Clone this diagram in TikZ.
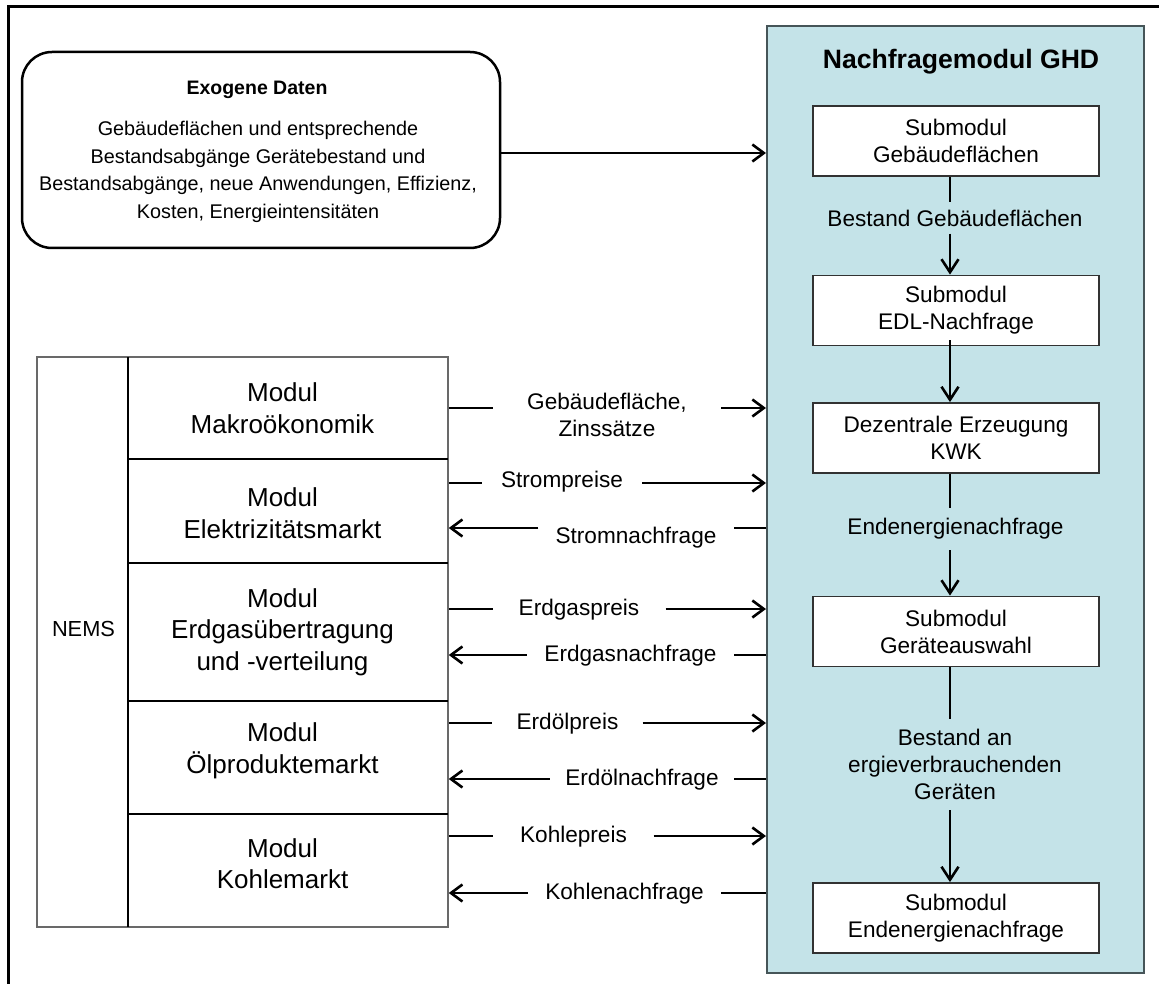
\documentclass[tikz,border=0pt]{standalone}
\usepackage{fontspec}
\setmainfont{Liberation Sans}
\usetikzlibrary{arrows.meta}

\definecolor{panelblue}{RGB}{196,227,232}
\definecolor{paneledge}{RGB}{70,85,88}
\definecolor{boxedge}{RGB}{50,50,50}
\definecolor{tablegray}{RGB}{105,105,105}

\tikzset{
  subbox/.style={draw=boxedge, line width=1.8pt, fill=white, inner sep=0pt,
    minimum width=286pt, minimum height=70pt, align=center,
    font=\fontsize{22.6}{27}\selectfont},
  flow/.style={line width=2.6pt, draw=black},
  harrow/.style={flow, -{Straight Barb[length=11.5pt,width=17pt]}},
  varrow/.style={flow, -{Straight Barb[length=13pt,width=17pt]}},
  lbl/.style={inner sep=0pt, align=center, font=\fontsize{22.6}{27}\selectfont},
  modtext/.style={inner sep=0pt, align=center, font=\fontsize{26}{31.5}\selectfont},
  rowline/.style={line width=2.5pt, draw=black},
}

\begin{document}
\begin{tikzpicture}[x=1pt,y=-1pt]
\useasboundingbox (0,0) rectangle (1159,984);

% outer frame (left and top edges)
\draw[line width=3pt] (8,984) -- (8,7) -- (1159,7);

% exogenous data box
\node[draw, line width=2.5pt, rounded corners=30pt, minimum width=478pt,
      minimum height=196pt, inner sep=0pt] (exo) at (261,150) {};
\node[inner sep=0pt, font=\fontsize{19.5}{24}\selectfont\bfseries] (exotitle) at (257,90) {Exogene Daten};
\node[inner sep=0pt, align=center, font=\fontsize{19.8}{27.7}\selectfont] (exobody) at (258,172)
  {Gebäudeflächen und entsprechende\\Bestandsabgänge Gerätebestand und\\Bestandsabgänge, neue Anwendungen, Effizienz,\\Kosten, Energieintensitäten};

% demand module panel
\node[draw=paneledge, fill=panelblue, line width=2pt, minimum width=377pt,
      minimum height=947pt, inner sep=0pt] (panel) at (955.5,499.5) {};
\node[inner sep=0pt, font=\fontsize{26.6}{30}\selectfont\bfseries] (ptitle) at (961,62) {Nachfragemodul GHD};

\node[subbox] (b1) at (956,141)   {Submodul\\Gebäudeflächen};
\node[subbox] (b2) at (956,310.5) {Submodul\\EDL-Nachfrage};
\node[subbox] (b3) at (956,438)   {Dezentrale Erzeugung\\KWK};
\node[subbox] (b4) at (956,631.5) {Submodul\\Geräteauswahl};
\node[subbox] (b5) at (956,918)   {Submodul\\Endenergienachfrage};

\node[lbl, minimum height=31pt] (l1) at (955,218)   {Bestand Gebäudeflächen};
\node[lbl, minimum height=42pt] (l3) at (955.5,529) {Endenergienachfrage};
\node[lbl, minimum height=91pt] (l4) at (955,764.5) {Bestand an\\ergieverbrauchenden\\Geräten};

\coordinate (ax) at (950,0);
\draw[flow]   (b1.south -| ax) -- (l1.north -| ax);
\draw[varrow] (l1.south -| ax) -- (b2.north -| ax);
\draw[varrow] ([yshift=6pt]b2.south -| ax) -- (b3.north -| ax);
\draw[flow]   (b3.south -| ax) -- (l3.north -| ax);
\draw[varrow] (l3.south -| ax) -- (b4.north -| ax);
\draw[flow]   (b4.south -| ax) -- (l4.north -| ax);
\draw[varrow] (l4.south -| ax) -- (b5.north -| ax);

% exogenous data into the panel
\coordinate (y0) at (0,153);
\draw[harrow] (exo.east |- y0) -- (panel.west |- y0);

% NEMS table
\node[draw=tablegray, line width=1.5pt, minimum width=411pt, minimum height=570pt,
      inner sep=0pt] (tbl) at (242.5,642) {};
\draw[rowline] (128,357) -- (128,927);
\draw[rowline] (128,459) -- (448,459);
\draw[rowline] (128,563) -- (448,563);
\draw[rowline] (128,701) -- (448,701);
\draw[rowline] (128,814) -- (448,814);

\node[inner sep=0pt, font=\fontsize{21.8}{26}\selectfont] (nems) at (83.5,629) {NEMS};
\node[modtext] (m1) at (282.5,408)   {Modul\\Makroökonomik};
\node[modtext] (m2) at (282.5,513)   {Modul\\Elektrizitätsmarkt};
\node[modtext] (m3) at (282.5,632)   {Modul\\Erdgasübertragung\\und -verteilung};
\node[modtext] (m4) at (282.5,751)   {Modul\\Ölproduktemarkt};
\node[modtext] (m5) at (282.5,863.5) {Modul\\Kohlemarkt};

% exchanged quantities between NEMS and the panel
\coordinate (y1) at (0,408);
\coordinate (y2) at (0,483);
\coordinate (y3) at (0,528);
\coordinate (y4) at (0,609);
\coordinate (y5) at (0,655);
\coordinate (y6) at (0,723);
\coordinate (y7) at (0,779);
\coordinate (y8) at (0,836);
\coordinate (y9) at (0,893);

\node[lbl, inner xsep=34.5pt] (s1) at (607,415)   {Gebäudefläche,\\Zinssätze};
\node[lbl, inner xsep=19pt]   (s2) at (562,482)   {Strompreise};
\node[lbl, inner xsep=17pt]   (s3) at (636,538)   {Stromnachfrage};
\node[lbl, inner xsep=26pt]   (s4) at (579,610)   {Erdgaspreis};
\node[lbl, inner xsep=17.5pt] (s5) at (630.5,656) {Erdgasnachfrage};
\node[lbl, inner xsep=24pt]   (s6) at (567.5,724) {Erdölpreis};
\node[lbl, inner xsep=15.5pt] (s7) at (642,780)   {Erdölnachfrage};
\node[lbl, inner xsep=26.5pt] (s8) at (573.5,837) {Kohlepreis};
\node[lbl, inner xsep=17.5pt] (s9) at (624.5,894) {Kohlenachfrage};

% to the panel
\draw[flow]   (tbl.east |- y1) -- (s1.west |- y1);
\draw[harrow] (s1.east |- y1) -- (panel.west |- y1);
\draw[flow]   (tbl.east |- y2) -- (s2.west |- y2);
\draw[harrow] (s2.east |- y2) -- (panel.west |- y2);
\draw[flow]   (tbl.east |- y4) -- (s4.west |- y4);
\draw[harrow] (s4.east |- y4) -- (panel.west |- y4);
\draw[flow]   (tbl.east |- y6) -- (s6.west |- y6);
\draw[harrow] (s6.east |- y6) -- (panel.west |- y6);
\draw[flow]   (tbl.east |- y8) -- (s8.west |- y8);
\draw[harrow] (s8.east |- y8) -- (panel.west |- y8);

% back to NEMS
\draw[flow]   (panel.west |- y3) -- (s3.east |- y3);
\draw[harrow] (s3.west |- y3) -- (tbl.east |- y3);
\draw[flow]   (panel.west |- y5) -- (s5.east |- y5);
\draw[harrow] (s5.west |- y5) -- (tbl.east |- y5);
\draw[flow]   (panel.west |- y7) -- (s7.east |- y7);
\draw[harrow] (s7.west |- y7) -- (tbl.east |- y7);
\draw[flow]   (panel.west |- y9) -- (s9.east |- y9);
\draw[harrow] (s9.west |- y9) -- (tbl.east |- y9);
\end{tikzpicture}
\end{document}
